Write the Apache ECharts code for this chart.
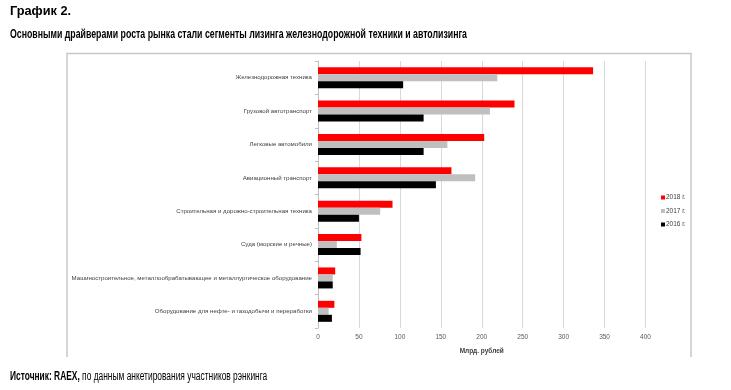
<!DOCTYPE html>
<html><head><meta charset="utf-8">
<script src="https://cdn.jsdelivr.net/npm/echarts@6/dist/echarts.min.js"></script>
<style>html,body{margin:0;padding:0;background:#fff}#c{width:731px;height:390px}</style>
</head><body><div id="c"></div>
<script>
const categories = [
  'Железнодорожная техника',
  'Грузовой автотранспорт',
  'Легковые автомобили',
  'Авиационный транспорт',
  'Строительная и дорожно-строительная техника',
  'Суда (морские и речные)',
  'Машиностроительное, металлообрабатывающее и металлургическое оборудование',
  'Оборудование для нефте- и газодобычи и переработки'
];
const seriesNames = ['2018 г.', '2017 г.', '2016 г.'];
const values2018 = [336, 240, 203, 163, 91, 53, 21, 20];
const values2017 = [219, 210, 158, 192, 76, 23, 18, 13];
const values2016 = [104, 129, 129, 144, 50, 52, 18, 17];
const xTicks = [0, 50, 100, 150, 200, 250, 300, 350, 400];
const colors = ['#ff0000', '#bfbfbf', '#000000'];
const titleText = 'График 2.';
const subtitleText = 'Основными драйверами роста рынка стали сегменты лизинга железнодорожной техники и автолизинга';
const sourceBold = 'Источник: RAEX,';
const sourceText = ' по данным анкетирования участников рэнкинга';

const chart = echarts.init(document.getElementById('c'), null, {renderer: 'canvas'});
const F = 'Liberation Sans, Arial, sans-serif';
chart.setOption({
  animation: false,
  backgroundColor: '#fff',
  graphic: [
    {type: 'polyline', shape: {points: [[67, 357], [67, 53.5], [691, 53.5], [691, 357]]}, style: {stroke: '#c8c8c8', lineWidth: 1.5, fill: null}},
    {type: 'text', x: 10, y: 11, scaleX: 0.98, originX: 0, style: {text: titleText, font: 'bold 13px ' + F, fill: '#000', verticalAlign: 'middle'}},
    {type: 'text', x: 10, y: 35, scaleX: 0.73, originX: 0, style: {text: subtitleText, font: 'bold 12px ' + F, fill: '#000', verticalAlign: 'middle'}},
    {type: 'text', x: 10, y: 377, scaleX: 0.70, originX: 0, style: {
      text: '{b|' + sourceBold + '}{n|' + sourceText + '}', verticalAlign: 'middle',
      rich: {b: {font: 'bold 12px ' + F, fill: '#000'}, n: {font: '12px ' + F, fill: '#000'}}}}
  ],
  legend: {
    orient: 'vertical', left: 656, top: 189, itemWidth: 4, itemHeight: 4, itemGap: 6.5,
    icon: 'rect', data: seriesNames,
    textStyle: {fontFamily: F, fontSize: 6.5, color: '#404040', padding: [0, 0, 0, -4]}
  },
  grid: {left: 318, right: 85.5, top: 61, bottom: 62},
  xAxis: {
    type: 'value', min: 0, max: 400, interval: 50,
    name: 'Млрд. рублей', nameLocation: 'middle', nameGap: 20,
    nameTextStyle: {fontFamily: F, fontSize: 6.5, fontWeight: 'bold', color: '#404040'},
    axisLine: {show: false}, axisTick: {show: false},
    axisLabel: {fontFamily: F, fontSize: 6.5, color: '#595959', margin: 6,
      formatter: v => xTicks.includes(v) ? String(v) : ''},
    splitLine: {lineStyle: {color: '#d9d9d9', width: 1}}
  },
  yAxis: {
    type: 'category', data: categories, inverse: true,
    axisLine: {lineStyle: {color: '#bfbfbf'}},
    axisTick: {show: true, length: 3, lineStyle: {color: '#bfbfbf'}},
    axisLabel: {fontFamily: F, fontSize: 6.1, color: '#404040', margin: 6}
  },
  series: [
    {name: seriesNames[0], type: 'bar', data: values2018, itemStyle: {color: colors[0]}, barWidth: 7, barGap: '0%', barCategoryGap: '37%'},
    {name: seriesNames[1], type: 'bar', data: values2017, itemStyle: {color: colors[1]}, barWidth: 7, barGap: '0%'},
    {name: seriesNames[2], type: 'bar', data: values2016, itemStyle: {color: colors[2]}, barWidth: 7, barGap: '0%'}
  ]
});
</script></body></html>
